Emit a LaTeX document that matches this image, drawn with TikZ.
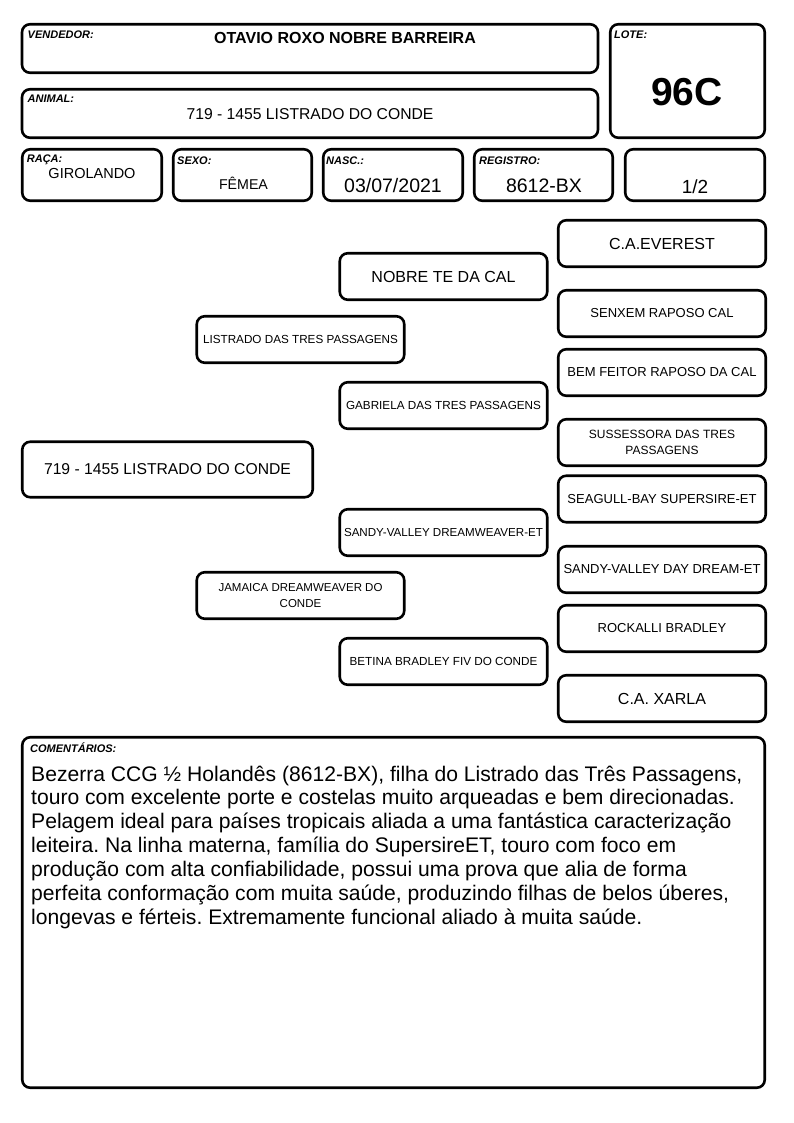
\documentclass[tikz,border=0pt]{standalone}
\usepackage{fontspec}
\setmainfont{Liberation Sans}
\newcommand\fs[2]{\fontsize{#1}{#2}\selectfont}
\frenchspacing
\begin{document}
\begin{tikzpicture}[x=1pt,y=-1pt,
  box/.style={draw, line width=2.6pt, rounded corners=8pt, inner sep=0pt, align=center},
  lab/.style={anchor=base west, inner sep=0pt, font=\fs{11}{12}\bfseries\itshape},
  txt/.style={anchor=base, inner sep=0pt},
  ped/.style={box, minimum width=207.5pt, minimum height=46.5pt},
  cmt/.style={anchor=base west, inner sep=0pt, font=\fs{21.1}{24}\frenchspacing}]
\useasboundingbox[fill=white] (0,0) rectangle (794,1123);

% header
\node[box, minimum width=576pt, minimum height=48.5pt] (vend) at (310,48.5) {};
\node[lab] (vendL) at (27.5,39) {VENDEDOR:};
\node[txt, font=\fs{16}{18}\bfseries] (vendT) at (345,43.3) {OTAVIO ROXO NOBRE BARREIRA};

\node[box, minimum width=154.5pt, minimum height=113.5pt] (lote) at (687.5,81) {};
\node[lab] (loteL) at (614,39) {LOTE:};
\node[txt, font=\fs{39}{44}\bfseries] (loteT) at (687,106) {96C};

\node[box, minimum width=576pt, minimum height=48.5pt] (anim) at (310,113.5) {};
\node[lab] (animL) at (27.5,103) {ANIMAL:};
\node[txt, font=\fs{15.7}{18}] (animT) at (310,119.5) {719 - 1455 LISTRADO DO CONDE};

\node[box, minimum width=139.5pt, minimum height=51.5pt] (raca) at (92,175) {};
\node[lab] (racaL) at (26.7,162.5) {RAÇA:};
\node[txt, font=\fs{14.5}{17}] (racaT) at (92,178.3) {GIROLANDO};

\node[box, minimum width=138.5pt, minimum height=51.5pt] (sexo) at (242.5,175) {};
\node[lab] (sexoL) at (177,165) {SEXO:};
\node[txt, font=\fs{14.2}{17}] (sexoT) at (243.5,189.5) {FÊMEA};

\node[box, minimum width=139.5pt, minimum height=51.5pt] (nasc) at (393,175) {};
\node[lab] (nascL) at (326,165) {NASC.:};
\node[txt, font=\fs{19.5}{22}] (nascT) at (393,193) {03/07/2021};

\node[box, minimum width=138.5pt, minimum height=51.5pt] (reg) at (543.5,175) {};
\node[lab] (regL) at (479,165) {REGISTRO:};
\node[txt, font=\fs{19.5}{22}] (regT) at (544,193) {8612-BX};

\node[box, minimum width=139.5pt, minimum height=51.5pt] (half) at (695,175) {};
\node[txt, font=\fs{19}{22}] (halfT) at (695,194) {1/2};

% pedigree
\node[ped, font=\fs{16}{18}] (everest) at (662,243.5) {C.A.EVEREST};
\node[ped, font=\fs{16}{18}] (nobre) at (443.5,276.5) {NOBRE TE DA CAL};
\node[ped, font=\fs{13}{15}] (senxem) at (662,313.5) {SENXEM RAPOSO CAL};
\node[ped, font=\fs{11.7}{14}] (listrado) at (300.5,339.5) {LISTRADO DAS TRES PASSAGENS};
\node[ped, font=\fs{13}{15}] (bemfeitor) at (662,372.5) {BEM FEITOR RAPOSO DA CAL};
\node[ped, font=\fs{11.7}{14}] (gabriela) at (443.5,405.5) {GABRIELA DAS TRES PASSAGENS};
\node[ped, font=\fs{12}{15.5}] (sussessora) at (662,442.5) {SUSSESSORA DAS TRES\\PASSAGENS};
\node[box, minimum width=290.5pt, minimum height=55.5pt, font=\fs{15.7}{18}] (animal) at (167.5,469.5) {719 - 1455 LISTRADO DO CONDE};
\node[ped, font=\fs{13}{15}] (seagull) at (662,499) {SEAGULL-BAY SUPERSIRE-ET};
\node[ped, font=\fs{11.6}{14}] (sandydw) at (443.5,532.5) {SANDY-VALLEY DREAMWEAVER-ET};
\node[ped, font=\fs{13}{15}] (sandyday) at (662,569.5) {SANDY-VALLEY DAY DREAM-ET};
\node[ped, font=\fs{11.5}{15.5}] (jamaica) at (300.5,595.5) {JAMAICA DREAMWEAVER DO\\CONDE};
\node[ped, font=\fs{13}{15}] (rockalli) at (662,628.5) {ROCKALLI BRADLEY};
\node[ped, font=\fs{11.7}{14}] (betina) at (443.5,661.5) {BETINA BRADLEY FIV DO CONDE};
\node[ped, font=\fs{16}{18}] (xarla) at (662,698.5) {C.A. XARLA};

% comments
\node[box, minimum width=742.5pt, minimum height=350.5pt] (com) at (393.5,912.5) {};
\node[lab] (comL) at (30,752.5) {COMENTÁRIOS:};
\node[cmt] (c1) at (31,781) {Bezerra CCG ½ Holandês (8612-BX), filha do Listrado das Três Passagens,};
\node[cmt] (c2) at (31,804.9) {touro com excelente porte e costelas muito arqueadas e bem direcionadas.};
\node[cmt] (c3) at (31,828.8) {Pelagem ideal para países tropicais aliada a uma fantástica caracterização};
\node[cmt] (c4) at (31,852.7) {leiteira. Na linha materna, família do SupersireET, touro com foco em};
\node[cmt] (c5) at (31,876.6) {produção com alta confiabilidade, possui uma prova que alia de forma};
\node[cmt] (c6) at (31,900.5) {perfeita conformação com muita saúde, produzindo filhas de belos úberes,};
\node[cmt] (c7) at (31,924.4) {longevas e férteis. Extremamente funcional aliado à muita saúde.};
\end{tikzpicture}
\end{document}
